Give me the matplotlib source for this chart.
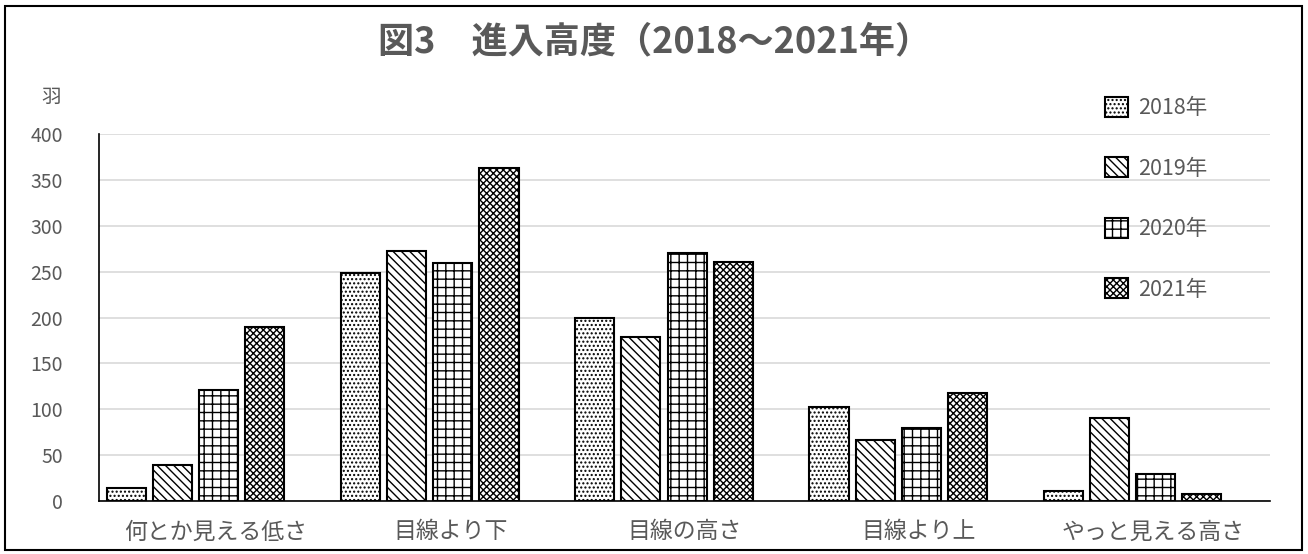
import matplotlib.pyplot as plt
from matplotlib.patches import Rectangle, Patch

plt.rcParams['font.family'] = ['Noto Sans CJK JP', 'DejaVu Sans']
plt.rcParams['hatch.linewidth'] = 1.0

categories = ["何とか見える低さ", "目線より下", "目線の高さ", "目線より上", "やっと見える高さ"]
years = ["2018年", "2019年", "2020年", "2021年"]
v2018 = [14, 248, 200, 102, 11]
v2019 = [39, 273, 179, 67, 91]
v2020 = [121, 259, 270, 80, 29]
v2021 = [190, 363, 261, 118, 8]
series = [v2018, v2019, v2020, v2021]
hatches = ["....", "\\\\\\\\", "++", "xxxxx"]
yticks = [0, 50, 100, 150, 200, 250, 300, 350, 400]

GRAY = "#595959"

fig = plt.figure(figsize=(13.08, 5.54), dpi=100)
ax = fig.add_axes([99 / 1308, 1 - 501 / 554, (1270 - 99) / 1308, (501 - 134) / 554])

width = 0.167
step = 0.197
x0 = [i - 0.383 for i in range(len(categories))]
for j, (vals, h) in enumerate(zip(series, hatches)):
    xs = [x + j * step for x in x0]
    ax.bar(xs, vals, width=width, color="white", edgecolor="black",
           linewidth=1.5, hatch=h, zorder=3, label=years[j])

ax.set_xlim(-0.5, len(categories) - 0.5)
ax.set_ylim(0, 400)
ax.set_yticks(yticks)
ax.set_xticks(range(len(categories)))
ax.set_xticklabels(categories, fontsize=16.5, color=GRAY)
ax.tick_params(axis="y", labelsize=14, colors=GRAY, length=0, pad=26)
ax.tick_params(axis="x", length=0, pad=14)
ax.grid(axis="y", color="#d9d9d9", linewidth=1.2, zorder=0)
for s in ["top", "right"]:
    ax.spines[s].set_visible(False)
ax.spines["left"].set_color("black")
ax.spines["bottom"].set_color("black")
ax.spines["left"].set_linewidth(1.2)
ax.spines["bottom"].set_linewidth(1.2)

fig.text(655 / 1308, 1 - 42 / 554, "図3　進入高度（2018～2021年）", ha="center", va="center",
         fontsize=26, fontweight="bold", color=GRAY)
fig.text(51 / 1308, 1 - 97 / 554, "羽", ha="center", va="center", fontsize=14, color=GRAY)

handles = [Patch(facecolor="white", edgecolor="black", hatch=h, linewidth=1.5) for h in hatches]
leg = fig.legend(handles, years, loc="upper left", bbox_to_anchor=(1105 / 1308, 1 - 97 / 554),
                 frameon=False, fontsize=15.5, labelspacing=1.77, handlelength=1.05,
                 handleheight=1.05, handletextpad=0.5, borderpad=0, borderaxespad=0)
for t in leg.get_texts():
    t.set_color(GRAY)

fig.add_artist(Rectangle((5 / 1308, 4 / 554), 1297 / 1308, 544 / 554, transform=fig.transFigure,
                         fill=False, edgecolor="black", linewidth=1.5))

fig.savefig("out.png", dpi=100)
